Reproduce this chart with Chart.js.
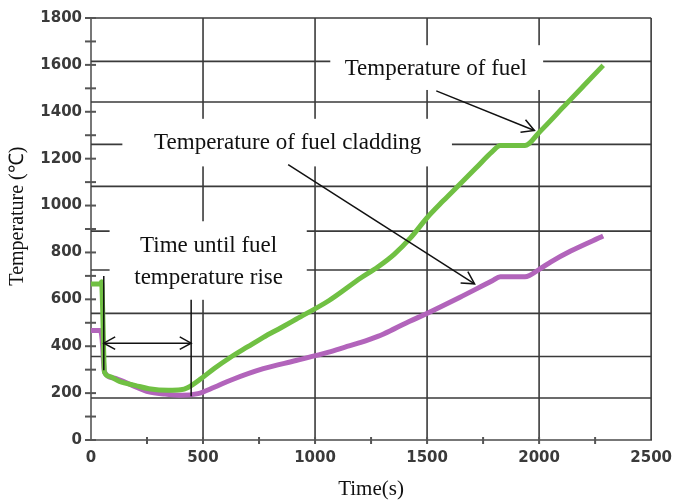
<!DOCTYPE html>
<html>
<head>
<meta charset="utf-8">
<script src="https://cdn.jsdelivr.net/npm/chart.js@4.4.1/dist/chart.umd.min.js"></script>
<style>
  html, body { margin: 0; padding: 0; background: #fff; }
</style>
</head>
<body>
<canvas id="myChart" width="681" height="504"></canvas>
<script>
// Temperatura del combustible (s, °C)
const fuelTime = [0, 42, 47, 52, 56, 60, 80, 127, 200, 258, 346, 400, 433, 492, 550, 623, 700, 769, 850, 915, 1061, 1207, 1280, 1353, 1426, 1499, 1572, 1645, 1718, 1791, 1827, 1937, 2001, 2111, 2200, 2286];
const fuelTemp = [665, 665, 675, 560, 400, 290, 272, 250, 232, 219, 212, 214, 224, 262, 305, 353, 398, 438, 480, 515, 594, 693, 738, 792, 862, 947, 1020, 1090, 1160, 1230, 1256, 1256, 1313, 1423, 1512, 1598];

// Temperatura del revestimiento
const cladTime = [0, 42, 47, 52, 56, 60, 100, 184, 258, 331, 404, 477, 550, 623, 769, 915, 1061, 1134, 1200, 1280, 1353, 1420, 1499, 1645, 1791, 1827, 1937, 2001, 2053, 2141, 2286];
const cladTemp = [467, 467, 450, 400, 330, 290, 265, 233, 205, 196, 191, 198, 225, 255, 304, 339, 375, 396, 415, 442, 474, 505, 540, 608, 679, 696, 696, 728, 760, 806, 870];

// Lineas de la cuadricula del original (no coinciden con las marcas)
const hGrid = [1800, 1615, 1442, 1261, 1082, 891, 725, 540, 356, 179];
const vGrid = [500, 1000, 1500, 2000, 2500];

const toPoints = (xs, ys) => xs.map((t, i) => ({ x: t, y: ys[i] }));

// Cajas blancas de las etiquetas (en unidades de datos)
const labelBoxes = [
  { x0: 1068, x1: 2018, y0: 1493, y1: 1684 },
  { x0: 140, x1: 1611, y0: 1167, y1: 1370 },
  { x0: 83, x1: 963, y0: 598, y1: 933 },
];

function arrowHead(ctx, x1, y1, x2, y2, size) {
  const ang = Math.atan2(y2 - y1, x2 - x1);
  ctx.beginPath();
  ctx.moveTo(x2 - size * Math.cos(ang - 0.5), y2 - size * Math.sin(ang - 0.5));
  ctx.lineTo(x2, y2);
  ctx.lineTo(x2 - size * Math.cos(ang + 0.5), y2 - size * Math.sin(ang + 0.5));
  ctx.stroke();
}

const overlay = {
  id: "overlay",
  beforeDatasetsDraw(chart) {
    const { ctx, chartArea: a, scales: { x, y } } = chart;
    ctx.save();
    ctx.strokeStyle = "#3a3a3a";
    ctx.lineWidth = 1.6;
    hGrid.forEach((v) => {
      const py = y.getPixelForValue(v);
      ctx.beginPath();
      ctx.moveTo(a.left, py);
      ctx.lineTo(a.right, py);
      ctx.stroke();
    });
    vGrid.forEach((v) => {
      const px = x.getPixelForValue(v);
      ctx.beginPath();
      ctx.moveTo(px, a.top);
      ctx.lineTo(px, a.bottom);
      ctx.stroke();
    });

    ctx.fillStyle = "#fff";
    labelBoxes.forEach((b) => {
      const l = x.getPixelForValue(b.x0), r = x.getPixelForValue(b.x1);
      const t = y.getPixelForValue(b.y1), bt = y.getPixelForValue(b.y0);
      ctx.fillRect(l, t, r - l, bt - t);
    });

    // marcas menores y mayores
    ctx.strokeStyle = "#555";
    ctx.lineWidth = 2;
    for (let v = 0; v <= 1800; v += 100) {
      const py = y.getPixelForValue(v);
      ctx.beginPath();
      ctx.moveTo(a.left - 6, py);
      ctx.lineTo(a.left + 5, py);
      ctx.stroke();
    }
    for (let v = 250; v < 2500; v += 250) {
      const px = x.getPixelForValue(v);
      ctx.beginPath();
      ctx.moveTo(px, a.bottom - 3);
      ctx.lineTo(px, a.bottom + 4);
      ctx.stroke();
    }
    ctx.restore();
  },
  afterDatasetsDraw(chart) {
    const { ctx, scales: { x, y } } = chart;
    const X = (v) => x.getPixelForValue(v);
    const Y = (v) => y.getPixelForValue(v);
    ctx.save();
    ctx.fillStyle = "#111";
    ctx.font = "23px 'Liberation Serif', 'Times New Roman', serif";
    ctx.textAlign = "center";
    ctx.textBaseline = "middle";
    ctx.fillText("Temperature of fuel", X(1539), Y(1582));
    ctx.fillText("Temperature of fuel cladding", X(878), Y(1268));
    ctx.fillText("Time until fuel", X(525), Y(827));
    ctx.fillText("temperature rise", X(525), Y(692));

    // titulo del eje y (un poco por encima del centro, como el original)
    ctx.save();
    ctx.font = "20px 'Liberation Serif', 'Times New Roman', serif";
    ctx.translate(18, Y(955));
    ctx.rotate(-Math.PI / 2);
    ctx.fillText("Temperature (℃)", 0, 0);
    ctx.restore();

    ctx.strokeStyle = "#111";
    ctx.lineWidth = 1.5;
    // flechas de las etiquetas
    [[1541, 1489, 1979, 1320], [880, 1175, 1712, 666]].forEach(([a, b, c, d]) => {
      ctx.beginPath();
      ctx.moveTo(X(a), Y(b));
      ctx.lineTo(X(c), Y(d));
      ctx.stroke();
      arrowHead(ctx, X(a), Y(b), X(c), Y(d), 14);
    });

    // intervalo hasta el aumento de temperatura
    ctx.beginPath();
    ctx.moveTo(X(57), Y(700));
    ctx.lineTo(X(57), Y(297));
    ctx.moveTo(X(447), Y(598));
    ctx.lineTo(X(447), Y(187));
    ctx.moveTo(X(57), Y(413));
    ctx.lineTo(X(447), Y(413));
    ctx.stroke();
    arrowHead(ctx, X(447), Y(413), X(57), Y(413), 13);
    arrowHead(ctx, X(57), Y(413), X(447), Y(413), 13);
    ctx.restore();
  },
};

const ctx = document.getElementById("myChart").getContext("2d");
const tickFont = { family: "'DejaVu Sans', sans-serif", size: 15, weight: "bold" };
const titleFont = { family: "'Liberation Serif', 'Times New Roman', serif" };

window.myChart = new Chart(ctx, {
  type: "line",
  data: {
    datasets: [
      {
        label: "Temperature of fuel",
        data: toPoints(fuelTime, fuelTemp),
        borderColor: "#70c043",
        borderWidth: 5,
        pointRadius: 0,
        fill: false,
        cubicInterpolationMode: "monotone",
      },
      {
        label: "Temperature of fuel cladding",
        data: toPoints(cladTime, cladTemp),
        borderColor: "#b264bb",
        borderWidth: 5,
        pointRadius: 0,
        fill: false,
        cubicInterpolationMode: "monotone",
      },
    ],
  },
  options: {
    responsive: false,
    animation: false,
    layout: { padding: { top: 16, right: 19, left: 0, bottom: 0 } },
    scales: {
      x: {
        type: "linear",
        min: 0,
        max: 2500,
        ticks: { stepSize: 500, color: "#3a3a3a", font: tickFont, padding: 9, callback: (v) => String(v) },
        grid: { drawOnChartArea: false, drawTicks: false },
        border: { color: "#777", width: 2 },
        title: {
          display: true,
          text: "Time(s)",
          color: "#111",
          font: { ...titleFont, size: 21 },
          padding: { top: 0, bottom: 2 },
        },
        afterFit: (scale) => { scale.height = 64; },
      },
      y: {
        min: 0,
        max: 1800,
        ticks: { stepSize: 200, color: "#3a3a3a", font: tickFont, padding: 9, callback: (v) => String(v) },
        grid: { drawOnChartArea: false, drawTicks: false },
        border: { color: "#777", width: 2 },
        afterFit: (scale) => { scale.width = 91; },
      },
    },
    plugins: {
      legend: { display: false },
      tooltip: { enabled: false },
    },
  },
  plugins: [overlay],
});
</script>
</body>
</html>
